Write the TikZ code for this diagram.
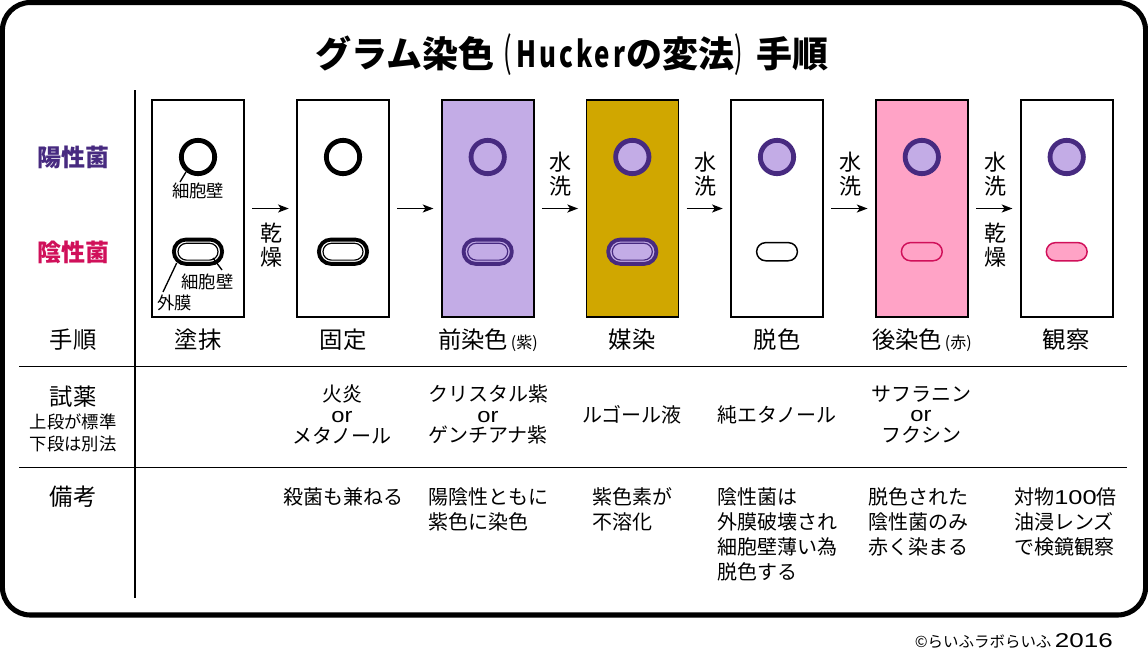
\documentclass[tikz,border=0pt]{standalone}
\usepackage{fontspec}
\setmainfont{Noto Sans CJK JP}
\newfontfamily\latinfont{Liberation Sans}
\usetikzlibrary{arrows.meta}
\definecolor{lightpurple}{HTML}{C3ACE6}
\definecolor{darkpurple}{HTML}{472A80}
\definecolor{mordant}{HTML}{D0A700}
\definecolor{pinkbg}{HTML}{FFA3C6}
\definecolor{crimson}{HTML}{D0105A}
\newcommand{\orword}{{\latinfont\fontsize{15.5pt}{15.4pt}\selectfont\scalebox{1.15}[1]{or}}}
\newcommand{\smallparen}[1]{\kern2pt{\fontsize{12pt}{12pt}\selectfont (#1)}}
\tikzset{
  slide/.style={draw=black,line width=1.2pt,minimum width=69pt,minimum height=162.75pt,inner sep=0pt},
  wall/.style={circle,draw=#1,line width=3.6pt,minimum size=25pt,inner sep=0pt},
  outerpill/.style={draw=#1,line width=2.9pt,rounded corners=9.1pt,minimum width=36.2pt,minimum height=18.2pt,inner sep=0pt},
  innerpill/.style={draw=#1,line width=0.9pt,rounded corners=6.3pt,minimum width=30pt,minimum height=12.6pt,inner sep=0pt},
  thinpill/.style={draw=#1,line width=1.1pt,rounded corners=6.8pt,minimum width=30.6pt,minimum height=13.6pt,inner sep=0pt},
  flow/.style={-{Stealth[length=8pt,width=6pt,inset=2pt]},line width=1.1pt,shorten >=5.6pt,shorten <=5.6pt},
  rule/.style={line width=1.3pt},
  leader/.style={line width=1pt},
  step label/.style={font=\fontsize{17.5pt}{20pt}\selectfont,inner sep=0pt},
  strain/.style={font=\fontsize{18pt}{20pt}\selectfont\bfseries,inner sep=0pt},
  mini/.style={font=\fontsize{13pt}{15pt}\selectfont,inner sep=0pt},
  vert/.style={font=\fontsize{16.5pt}{17.6pt}\selectfont,inner sep=0pt,align=center},
  reagent/.style={font=\fontsize{15pt}{15.4pt}\selectfont,inner sep=0pt,align=center},
  note/.style={font=\fontsize{15pt}{18.75pt}\selectfont,inner sep=0pt,align=left,anchor=north west},
}
\begin{document}
\begin{tikzpicture}[x=0.75pt,y=-0.75pt]
\useasboundingbox (0,0) rectangle (1148,664);
\fill[white] (0,0) rectangle (1148,664);
\draw[line width=3.8pt,rounded corners=21pt] (2.4,2.5) rectangle (1145.6,615);

\node[inner sep=0pt,font=\fontsize{27pt}{30pt}\selectfont\bfseries] (title) at (572,55)
  {グラム染色\kern7pt{\mdseries\scalebox{0.7}[1.15]{(}}\kern3pt\scalebox{0.72}[1]{\addfontfeature{LetterSpace=12}Hucker}\kern1pt の変法{\mdseries\scalebox{0.7}[1.15]{)}}\kern10pt手順};

% slides
\node[slide] (b1) at (198,208.5) {};
\node[slide] (b2) at (343,208.5) {};
\node[slide,fill=lightpurple] (b3) at (487.7,208.5) {};
\node[slide,fill=mordant] (b4) at (632.3,208.5) {};
\node[slide] (b5) at (777,208.5) {};
\node[slide,fill=pinkbg] (b6) at (921.8,208.5) {};
\node[slide] (b7) at (1066.7,208.5) {};

% flow arrows
\draw[flow] (b1) -- (b2);
\draw[flow] (b2) -- (b3);
\draw[flow] (b3) -- (b4);
\draw[flow] (b4) -- (b5);
\draw[flow] (b5) -- (b6);
\draw[flow] (b6) -- (b7);

% arrow captions
\node[vert] (dry1) at (271,245) {乾\\燥};
\node[vert] (wash1) at (560,174) {水\\洗};
\node[vert] (wash2) at (705,174) {水\\洗};
\node[vert] (wash3) at (850,174) {水\\洗};
\node[vert] (wash4) at (995,174) {水\\洗};
\node[vert] (dry2) at (995,245) {乾\\燥};

% gram-positive cells
\node[wall=black] (c1) at (198,157) {};
\node[wall=black] (c2) at (343,157) {};
\node[wall=darkpurple,fill=lightpurple] (c3) at (487.7,157) {};
\node[wall=darkpurple,fill=lightpurple] (c4) at (632.3,157) {};
\node[wall=darkpurple,fill=lightpurple] (c5) at (777,157) {};
\node[wall=darkpurple,fill=lightpurple] (c6) at (921.8,157) {};
\node[wall=darkpurple,fill=lightpurple] (c7) at (1066.7,157) {};

% gram-negative cells
\node[outerpill=black] (p1) at (198,251.7) {};
\node[innerpill=black] (q1) at (198,251.7) {};
\node[outerpill=black] (p2) at (343,251.7) {};
\node[innerpill=black] (q2) at (343,251.7) {};
\node[outerpill=darkpurple] (p3) at (487.7,251.7) {};
\node[innerpill=darkpurple] (q3) at (487.7,251.7) {};
\node[outerpill=darkpurple,fill=lightpurple] (p4) at (632.3,251.7) {};
\node[innerpill=darkpurple] (q4) at (632.3,251.7) {};
\node[thinpill=black,fill=white] (q5) at (777,251.7) {};
\node[thinpill=crimson] (q6) at (921.8,251.7) {};
\node[thinpill=crimson,fill=pinkbg] (q7) at (1066.7,251.7) {};

% part labels and leaders
\node[mini] (wall1) at (198,191) {細胞壁};
\node[mini] (wall2) at (207.5,282) {細胞壁};
\node[mini] (memb) at (174.5,303) {外膜};
\coordinate (lc1) at (186,172);
\coordinate (lw1) at (180,182);
\coordinate (lc2) at (213,258);
\coordinate (lw2) at (222,270);
\coordinate (lc3) at (176.7,263);
\coordinate (lw3) at (163,292);
\draw[leader] (lc1) -- (lw1);
\draw[leader] (lc2) -- (lw2);
\draw[leader] (lc3) -- (lw3);

% left headings
\node[strain,text=darkpurple] (pos) at (73,157) {陽性菌};
\node[strain,text=crimson] (neg) at (73,252) {陰性菌};

% step names
\node[step label] (s0) at (73,340) {手順};
\node[step label] (s1) at (198,340) {塗抹};
\node[step label] (s2) at (343,340) {固定};
\node[step label] (s3) at (488,340) {前染色\smallparen{紫}};
\node[step label] (s4) at (632,340) {媒染};
\node[step label] (s5) at (777,340) {脱色};
\node[step label] (s6) at (922,340) {後染色\smallparen{赤}};
\node[step label] (s7) at (1066,340) {観察};

% table rules
\coordinate (vtop) at (135,90);
\coordinate (vbot) at (135,598);
\coordinate (h1l) at (19,366.5);
\coordinate (h1r) at (1127,366.5);
\coordinate (h2l) at (19,467.5);
\coordinate (h2r) at (1127,467.5);
\draw[rule] (vtop) -- (vbot);
\draw[rule] (h1l) -- (h1r);
\draw[rule] (h2l) -- (h2r);

% reagent row
\node[step label] (r0) at (73,397) {試薬};
\node[mini] (r0a) at (73,422) {上段が標準};
\node[mini] (r0b) at (73,444) {下段は別法};
\node[reagent] (r2) at (342,414.5) {火炎\\\orword\\メタノール};
\node[reagent] (r3) at (488,414.5) {クリスタル紫\\\orword\\ゲンチアナ紫};
\node[reagent] (r4) at (632,415) {ルゴール液};
\node[reagent] (r5) at (777,415) {純エタノール};
\node[reagent] (r6) at (921,414.5) {サフラニン\\\orword\\フクシン};

% remarks row
\node[step label] (n0) at (73,497) {備考};
\node[note] (n2) at (283,487) {殺菌も兼ねる};
\node[note] (n3) at (428,487) {陽陰性ともに\\紫色に染色};
\node[note] (n4) at (592,487) {紫色素が\\不溶化};
\node[note] (n5) at (717,487) {陰性菌は\\外膜破壊され\\細胞壁薄い為\\脱色する};
\node[note] (n6) at (868,487) {脱色された\\陰性菌のみ\\赤く染まる};
\node[note] (n7) at (1014,487) {対物{\latinfont\scalebox{1.27}[1]{100}}倍\\油浸レンズ\\で検鏡観察};

\node[inner sep=0pt,anchor=east,font=\fontsize{11.6pt}{14pt}\selectfont] (copy) at (1113,641) {©らいふラボらいふ {\latinfont\fontsize{15pt}{15pt}\selectfont\scalebox{1.3}[1]{2016}}};
\end{tikzpicture}
\end{document}
